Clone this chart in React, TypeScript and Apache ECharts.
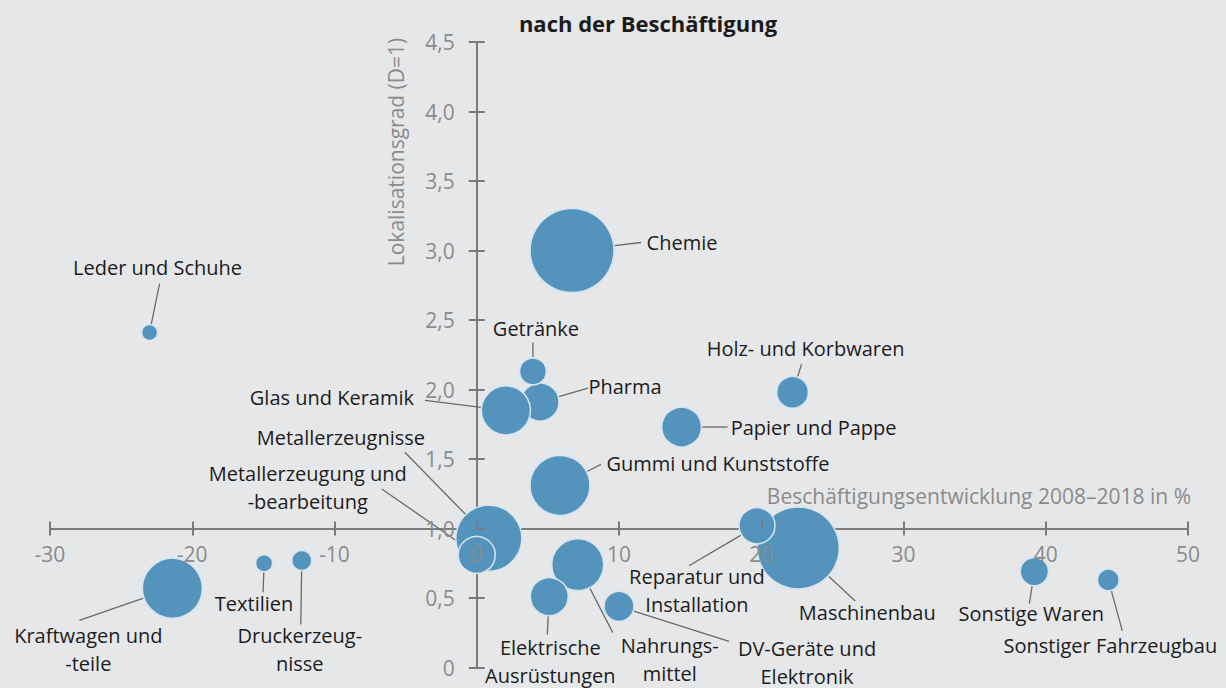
import React, { useEffect, useRef } from 'react';
import * as echarts from 'echarts';

// Sectors (label text as shown in the chart)
const sectors = [
  'Maschinenbau',
  'Chemie',
  'Metallerzeugnisse',
  'Kraftwagen und\n-teile',
  'Gummi und Kunststoffe',
  'Nahrungs-\nmittel',
  'Pharma',
  'Glas und Keramik',
  'Elektrische\nAusrüstungen',
  'Papier und Pappe',
  'Metallerzeugung und\n-bearbeitung',
  'Reparatur und\nInstallation',
  'Holz- und Korbwaren',
  'DV-Geräte und\nElektronik',
  'Getränke',
  'Sonstige Waren',
  'Sonstiger Fahrzeugbau',
  'Druckerzeug-\nnisse',
  'Leder und Schuhe',
  'Textilien',
];
// Beschäftigungsentwicklung 2008–2018 in %
const growth = [22.6, 6.7, 0.85, -21.4, 5.85, 7.1, 4.45, 2.05, 5.1, 14.4, 0.0, 19.7, 22.2, 10.0, 3.95, 39.2, 44.4, -12.3, -23.0, -14.95];
// Lokalisationsgrad (D=1)
const localisation = [0.86, 3.0, 0.93, 0.57, 1.31, 0.74, 1.91, 1.85, 0.51, 1.73, 0.81, 1.02, 1.98, 0.44, 2.13, 0.69, 0.63, 0.77, 2.41, 0.75];
// Bubble weight (relative employment)
const employment = [187, 196, 121, 100, 100, 75, 40, 67, 40, 44, 38, 36, 28, 25, 20, 22, 13, 11, 7, 8];

// Tick values
const xTicks = { min: -30, max: 50, interval: 10 };
const yTicks = { min: 0, max: 4.5, interval: 0.5 };
const crossAt = 1; // x axis crosses the y axis at D = 1

// Label placement (offset of label centre from bubble centre, px)
const labelDx = [69, 110, -148, -84, 158, 92, 85, -174, 1, 132, -169, -60, 13, 188, 3, -3, 2, -2, 8, -10];
const labelDy = [65, -8, -101, 61, -22, 95, -16, -13, 65, 0, -67, 65, -44, 56, -43, 42, 66, 89, -65, 40];
// Leader line outer end (offset from bubble centre, px)
const lineDx = [57, 69, -84, -93, 41, 35, 48, -81, -2, 46, -95, -68, 9, 110, 0, -5, 14, -1, 10, -1];
const lineDy = [53, -8, -86, 32, -21, 68, -14, -10, 38, 0, -66, 40, -28, 35, -29, 32, 51, 64, -49, 29];

const FONT = '"Open Sans", "Noto Sans", sans-serif';
const AXIS = '#7b7b7b';
const TICKTXT = '#8b8b8b';
const W = 1226;
const H = 688;
const GRID = { left: 50, right: 38, top: 42, bottom: 20.5 };

export default function App() {
  const ref = useRef<HTMLDivElement>(null);
  useEffect(() => {
    document.body.style.margin = '0';
    const chart = echarts.init(ref.current!, null, { renderer: 'svg' });
    const yMin = yTicks.min - crossAt;
    const yMax = yTicks.max - crossAt;
    const gridW = W - GRID.left - GRID.right;
    const gridH = H - GRID.top - GRID.bottom;
    const fmtY = (v: number) => {
      const r = Math.round((v + crossAt) * 10) / 10;
      return r === 0 ? '0' : r.toFixed(1).replace('.', ',');
    };
    const tickStyle = { color: AXIS, width: 2 };
    const sizeOf = (v: number) => 6 * Math.sqrt(v);
    const texts: any[] = [
      {
        type: 'text', x: 648, y: 23,
        style: { text: 'nach der Beschäftigung', fill: '#1b1b1b', fontSize: 22, fontWeight: 'bold', fontFamily: FONT, align: 'center', verticalAlign: 'middle' },
      },
      {
        type: 'text', x: 396, y: 152, rotation: Math.PI / 2,
        style: { text: 'Lokalisationsgrad (D=1)', fill: TICKTXT, fontSize: 21, fontFamily: FONT, align: 'center', verticalAlign: 'middle' },
      },
      {
        type: 'text', x: 1191, y: 496,
        style: { text: 'Beschäftigungsentwicklung 2008–2018 in %', fill: TICKTXT, fontSize: 21, fontFamily: FONT, align: 'right', verticalAlign: 'middle' },
      },
    ];
    const option: any = {
      animation: false,
      backgroundColor: '#e6e7e9',
      textStyle: { fontFamily: FONT },
      grid: { ...GRID, containLabel: false, outerBoundsMode: 'none' },
      xAxis: [
        {
          type: 'value', min: xTicks.min, max: xTicks.max, interval: xTicks.interval, position: 'bottom', z: 0,
          splitLine: { show: false },
          axisLine: { show: true, onZero: true, lineStyle: { color: AXIS, width: 2 } },
          axisTick: { show: true, length: 7, lineStyle: tickStyle },
          axisLabel: { show: false },
        },
        {
          type: 'value', min: xTicks.min, max: xTicks.max, interval: xTicks.interval, position: 'top', z: 10,
          offset: -gridH * (yMax / (yMax - yMin)),
          splitLine: { show: false },
          axisLine: { show: false, onZero: false },
          axisTick: { show: true, length: 7, lineStyle: tickStyle },
          axisLabel: { show: true, inside: true, margin: 15, color: TICKTXT, fontSize: 21, fontFamily: FONT },
        },
      ],
      yAxis: [
        {
          type: 'value', min: yMin, max: yMax, interval: yTicks.interval, position: 'left', z: 0,
          splitLine: { show: false },
          axisLine: { show: true, onZero: true, lineStyle: { color: AXIS, width: 2 } },
          axisTick: { show: true, length: 8, lineStyle: tickStyle },
          axisLabel: { show: false },
        },
        {
          type: 'value', min: yMin, max: yMax, interval: yTicks.interval, position: 'right', z: 10,
          offset: -gridW * (xTicks.max / (xTicks.max - xTicks.min)),
          splitLine: { show: false },
          axisLine: { show: false, onZero: false },
          axisTick: { show: true, length: 8, lineStyle: tickStyle },
          axisLabel: { show: true, inside: true, margin: 22, color: TICKTXT, fontSize: 21, fontFamily: FONT, formatter: fmtY },
        },
      ],
      graphic: texts,
      series: [
        {
          type: 'scatter',
          xAxisIndex: 0,
          yAxisIndex: 0,
          z: 5,
          data: sectors.map((n, i) => ({ name: n, value: [growth[i], localisation[i] - crossAt, employment[i]] })),
          symbolSize: (v: number[]) => sizeOf(v[2]),
          itemStyle: { color: '#5393bc', borderColor: '#d6e5ef', borderWidth: 1.5, opacity: 1 },
          label: {
            show: true,
            position: 'inside',
            formatter: '{b}',
            color: '#1c1c1c',
            fontSize: 20,
            fontFamily: FONT,
            lineHeight: 28,
            align: 'center',
            verticalAlign: 'middle',
            textBorderWidth: 0,
          },
          labelLayout: (p: any) => ({ dx: labelDx[p.dataIndex], dy: labelDy[p.dataIndex] }),
          emphasis: { disabled: true },
        },
      ],
    };
    chart.setOption(option);

    // Leader lines from bubble edge to label
    const lines = sectors.map((_, i) => {
      const c = chart.convertToPixel({ xAxisIndex: 0, yAxisIndex: 0 }, [growth[i], localisation[i] - crossAt]) as number[];
      const r = sizeOf(employment[i]) / 2 + 0.5;
      const len = Math.hypot(lineDx[i], lineDy[i]) || 1;
      const ux = lineDx[i] / len;
      const uy = lineDy[i] / len;
      return {
        type: 'line',
        z: 4,
        silent: true,
        shape: { x1: c[0] + ux * r, y1: c[1] + uy * r, x2: c[0] + lineDx[i], y2: c[1] + lineDy[i] },
        style: { stroke: '#6a6a6a', lineWidth: 1.3 },
      };
    });
    chart.setOption({ graphic: [...texts, ...lines] });
    return () => chart.dispose();
  }, []);
  return <div ref={ref} style={{ width: W, height: H, position: 'absolute', left: 0, top: 0 }} />;
}
